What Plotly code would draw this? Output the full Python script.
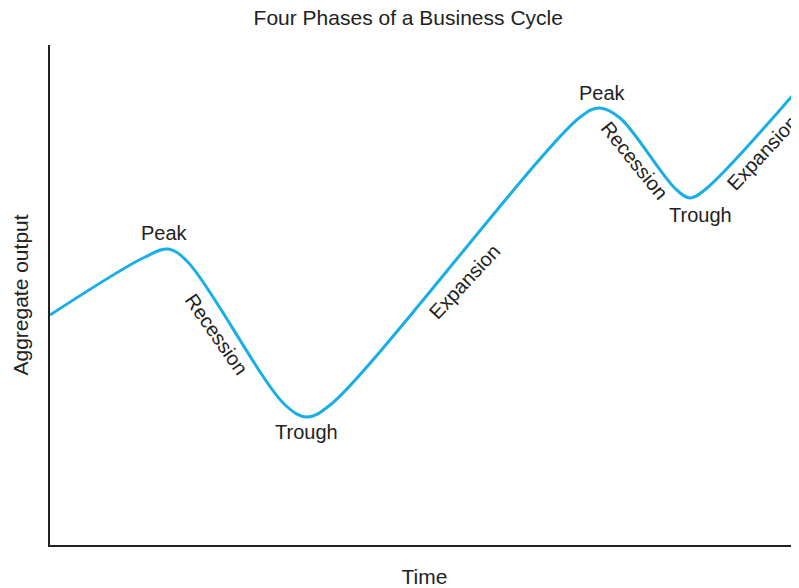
import plotly.graph_objects as go

# Business cycle path (time vs aggregate output, 0-100 scale)
time = [0, 12.7, 15.8, 18.4, 31.4, 34.3, 37.4, 70.8, 73.4, 76.1, 83.4, 85.4, 87.4, 100]
output = [46, 57.6, 59.2, 56.6, 28, 25.6, 28, 85.6, 87.4, 85.4, 71.4, 69.4, 71, 91.4]

phase_labels = ["Peak", "Recession", "Trough", "Expansion",
                "Peak", "Recession", "Trough", "Expansion"]

TEXT = "#222222"
FONT = "Liberation Sans, Arial, Helvetica, sans-serif"

fig = go.Figure()
fig.add_trace(
    go.Scatter(
        x=time,
        y=output,
        mode="lines",
        line=dict(color="#1AAEE6", width=3, shape="spline", smoothing=1),
        hoverinfo="skip",
        showlegend=False,
    )
)

# label placement: (x, y, angle)
label_pos = [
    (15.35, 62.4, 0),
    (22.2, 42.2, 55),
    (34.2, 22.6, 0),
    (55.3, 52.6, -47),
    (73.7, 90.4, 0),
    (78.0, 77.0, 51),
    (86.8, 66.0, 0),
    (95.1, 78.4, -47),
]
for text, (x, y, ang) in zip(phase_labels, label_pos):
    fig.add_annotation(
        x=x, y=y, text=text, showarrow=False, textangle=ang,
        xanchor="center", yanchor="middle",
        font=dict(size=20, color=TEXT, family=FONT),
    )

# page body has an 8px margin, so the figure is sized to fit the window
fig.update_layout(
    width=791,
    height=580,
    margin=dict(l=42, r=0, t=37, b=43),
    plot_bgcolor="white",
    paper_bgcolor="white",
    font=dict(family=FONT, size=20, color=TEXT),
    title=dict(
        text="Four Phases of a Business Cycle",
        x=0.506, xanchor="center", y=1 - 10 / 580, yanchor="middle",
        font=dict(size=21, color=TEXT, family=FONT),
    ),
    xaxis=dict(
        range=[0, 100], showgrid=False, zeroline=False, showticklabels=False,
        ticks="", showline=True, linecolor="#222222", linewidth=2,
        title=dict(text="Time", standoff=24, font=dict(size=21, color=TEXT)),
    ),
    yaxis=dict(
        range=[0, 100], showgrid=False, zeroline=False, showticklabels=False,
        ticks="", showline=True, linecolor="#222222", linewidth=2,
        title=dict(text="Aggregate output", standoff=14, font=dict(size=21, color=TEXT)),
    ),
)

fig.write_html("out.html")
